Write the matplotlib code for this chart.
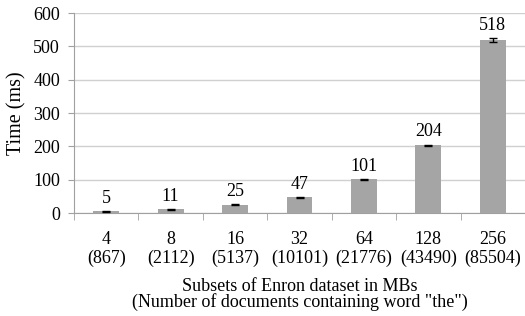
import matplotlib.pyplot as plt
import numpy as np

plt.rcParams['font.family'] = ['Liberation Serif', 'DejaVu Serif']

sizes = ["4", "8", "16", "32", "64", "128", "256"]
docs = ["867", "2112", "5137", "10101", "21776", "43490", "85504"]
times = [5, 11, 25, 47, 101, 204, 518]
errs = [1, 1, 1, 1, 1, 1.5, 6]

fig = plt.figure(figsize=(5.25, 3.16), dpi=100)
ax = fig.add_axes([74/525, 1-213/316, 451/525, 200/316])

x = np.arange(len(times))
ax.bar(x, times, width=0.4, color="#a5a5a5", zorder=3)
ax.errorbar(x, times, yerr=errs, fmt="none", ecolor="black", elinewidth=1,
            capsize=3, capthick=1, zorder=4)
for xi, t, e in zip(x, times, errs):
    ax.annotate(str(t), (xi, t + e), xytext=(0, 3), textcoords="offset points",
                ha="center", va="bottom", fontsize=13)

ax.set_xlim(-0.5, len(times) - 0.5)
ax.set_ylim(0, 600)
ax.set_yticks(range(0, 601, 100))
ax.yaxis.grid(True, color="#d0d0d0", linewidth=1, zorder=0)
ax.tick_params(axis="y", length=4, color="#a0a0a0", labelsize=13, pad=6)

ax.set_xticks(x)
ax.set_xticklabels([f"{s}\n({d})" for s, d in zip(sizes, docs)], fontsize=13,
                   linespacing=1.1)
ax.tick_params(axis="x", length=0, pad=13)
ax.set_xticks(np.arange(len(times) + 1) - 0.5, minor=True)
ax.tick_params(axis="x", which="minor", length=5, color="#a0a0a0")

for s in ["top", "right"]:
    ax.spines[s].set_visible(False)
for s in ["left", "bottom"]:
    ax.spines[s].set_color("#a0a0a0")

ax.set_ylabel("Time (ms)", fontsize=14.5, labelpad=5)
ax.set_xlabel('Subsets of Enron dataset in MBs\n(Number of documents containing word "the")',
              fontsize=13, labelpad=8, linespacing=0.9)

fig.savefig("out.png", dpi=100)
